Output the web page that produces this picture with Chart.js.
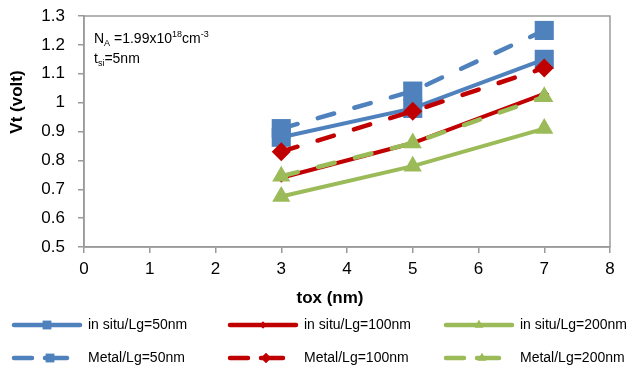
<!DOCTYPE html>
<html>
<head>
<meta charset="utf-8">
<script src="https://cdn.jsdelivr.net/npm/chart.js@4.4.1/dist/chart.umd.min.js"></script>
<style>
  html, body { margin: 0; padding: 0; background: #fff; }
  #wrap { width: 636px; height: 370px; position: relative; }
</style>
</head>
<body>
<div id="wrap"><canvas id="chart-vt"></canvas></div>
<script>
// data
const tox = [3, 5, 7];
const inSitu50 = [0.88, 0.98, 1.15];
const inSitu100 = [0.74, 0.86, 1.03];
const inSitu200 = [0.675, 0.78, 0.91];
const metal50 = [0.91, 1.04, 1.25];
const metal100 = [0.83, 0.97, 1.12];
const metal200 = [0.745, 0.86, 1.02];
const xTicks = [0, 1, 2, 3, 4, 5, 6, 7, 8];
const yTicks = [0.5, 0.6, 0.7, 0.8, 0.9, 1, 1.1, 1.2, 1.3];
const seriesNames = ['in situ/Lg=50nm', 'in situ/Lg=100nm', 'in situ/Lg=200nm',
	'Metal/Lg=50nm', 'Metal/Lg=100nm', 'Metal/Lg=200nm'];

const BLUE = '#4F81BD', RED = '#C00000', GREEN = '#9BBB59', AXIS = '#9a9a9a';
const FONT = '"Liberation Sans", Arial, sans-serif';
const DASH = [17, 21];

function pts(vals) {
	return tox.map((x, i) => ({x: x, y: vals[i]}));
}

function makeSet(i, vals, color, style, radius, dashed) {
	return {
		label: seriesNames[i],
		data: pts(vals),
		borderColor: color,
		backgroundColor: color,
		borderWidth: dashed ? 4.5 : 4,
		borderDash: dashed ? DASH : [],
		borderCapStyle: 'round',
		pointStyle: style,
		pointRadius: radius,
		pointHoverRadius: radius,
		pointBorderWidth: 0,
		order: 6 - i
	};
}

const datasets = [
	makeSet(0, inSitu50, BLUE, 'rect', 13.5, false),
	makeSet(1, inSitu100, RED, 'rectRot', 5, false),
	makeSet(2, inSitu200, GREEN, 'triangle', 10.5, false),
	makeSet(3, metal50, BLUE, 'rect', 13.5, true),
	makeSet(4, metal100, RED, 'rectRot', 9.5, true),
	makeSet(5, metal200, GREEN, 'triangle', 10.5, true)
];

// frame, titles, note and legend
const extras = {
	id: 'extras',
	beforeDatasetsDraw(chart) {
		const a = chart.chartArea, ctx = chart.ctx;
		ctx.save();
		ctx.strokeStyle = AXIS;
		ctx.lineWidth = 1.5;
		ctx.strokeRect(a.left, a.top, a.right - a.left, a.bottom - a.top);
		ctx.restore();
	},
	afterDraw(chart) {
		const ctx = chart.ctx, a = chart.chartArea;
		ctx.save();
		ctx.fillStyle = '#000';

		// axis titles
		ctx.font = 'bold 17px ' + FONT;
		ctx.textAlign = 'center';
		ctx.textBaseline = 'middle';
		ctx.fillText('tox (nm)', 330, 298);
		ctx.save();
		ctx.translate(17, 102);
		ctx.rotate(-Math.PI / 2);
		ctx.fillText('Vt (volt)', 0, 0);
		ctx.restore();

		// note with sub/superscripts
		ctx.textAlign = 'left';
		ctx.textBaseline = 'alphabetic';
		let x = a.left + 10;
		const parts = [
			['N', 14, 43], ['A', 9, 46], [' =1.99x10', 14, 43], ['18', 9, 37],
			['cm', 14, 43], ['-3', 9, 37]
		];
		parts.forEach(p => {
			ctx.font = p[1] + 'px ' + FONT;
			ctx.fillText(p[0], x, p[2]);
			x += ctx.measureText(p[0]).width;
		});
		x = a.left + 10;
		[['t', 14, 63], ['si', 9, 66], ['=5nm', 14, 63]].forEach(p => {
			ctx.font = p[1] + 'px ' + FONT;
			ctx.fillText(p[0], x, p[2]);
			x += ctx.measureText(p[0]).width;
		});

		// legend, 2 rows x 3 columns
		const cols = [12, 228, 444], rows = [325, 358];
		ctx.font = '14px ' + FONT;
		ctx.textBaseline = 'middle';
		chart.data.datasets.forEach((ds, i) => {
			const lx = cols[i % 3], ly = rows[Math.floor(i / 3)];
			const dashed = ds.borderDash.length > 0;
			ctx.save();
			ctx.strokeStyle = ds.borderColor;
			ctx.lineWidth = 4.5;
			ctx.lineCap = 'round';
			if (dashed) ctx.setLineDash([18, 13, 22, 200]);
			ctx.beginPath();
			ctx.moveTo(lx + 2, ly);
			ctx.lineTo(lx + 68, ly);
			ctx.stroke();
			ctx.restore();
			const mr = ds.pointStyle === 'rect' ? 6 : (ds.pointRadius < 6 ? 3.5 : 5);
			ctx.fillStyle = ds.borderColor;
			ctx.beginPath();
			Chart.helpers.drawPoint(ctx, {
				pointStyle: ds.pointStyle, radius: mr, borderWidth: 0, rotation: 0
			}, dashed ? lx + 38 : lx + 35, ly);
			ctx.fill();
			ctx.fillStyle = '#000';
			ctx.fillText(ds.label, lx + 76, ly);
		});
		ctx.restore();
	}
};

const ctx = document.getElementById('chart-vt').getContext('2d');
window.chartVt = new Chart(ctx, {
	type: 'line',
	data: { datasets: datasets },
	options: {
		responsive: true,
		maintainAspectRatio: false,
		animation: false,
		layout: { padding: { left: 0, right: 26, top: 16, bottom: 0 } },
		plugins: {
			legend: { display: false },
			tooltip: { enabled: false }
		},
		scales: {
			x: {
				type: 'linear',
				min: 0,
				max: 8,
				afterFit: s => { s.height = 123; s.paddingLeft = 0; s.paddingRight = 0; },
				afterBuildTicks: s => { s.ticks = xTicks.map(v => ({value: v})); },
				grid: { drawOnChartArea: false, drawTicks: true, tickLength: 6, color: AXIS, lineWidth: 1.5 },
				border: { color: AXIS, width: 1.5 },
				ticks: { color: '#000', font: { family: FONT, size: 17 }, padding: 6, maxRotation: 0 }
			},
			y: {
				min: 0.5,
				max: 1.3,
				afterFit: s => { s.width = 84; s.paddingTop = 0; s.paddingBottom = 0; },
				afterBuildTicks: s => { s.ticks = yTicks.map(v => ({value: v})); },
				grid: { drawOnChartArea: false, drawTicks: true, tickLength: 6, color: AXIS, lineWidth: 1.5 },
				border: { color: AXIS, width: 1.5 },
				ticks: {
					color: '#000',
					font: { family: FONT, size: 17 },
					padding: 13,
					callback: v => String(+v.toFixed(1))
				}
			}
		}
	},
	plugins: [extras]
});
</script>
</body>
</html>
